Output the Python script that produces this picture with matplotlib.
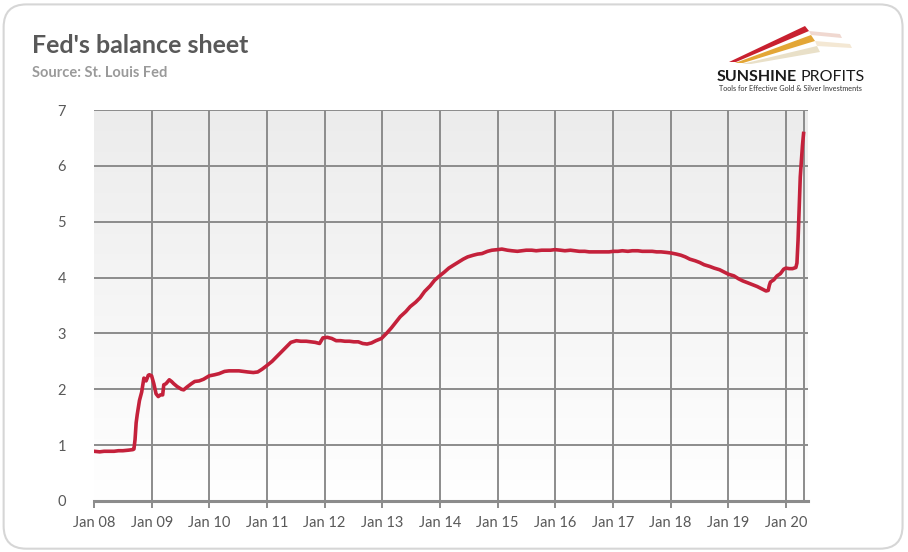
import matplotlib
matplotlib.use("Agg")
import matplotlib.pyplot as plt
import matplotlib.dates as mdates
from matplotlib.patches import FancyBboxPatch, Polygon
import numpy as np
import pandas as pd

# ---------------- data (trillions of USD) ----------------
dates = [
    "2008-01-02", "2008-02-06", "2008-03-05", "2008-04-02", "2008-05-07", "2008-06-04",
    "2008-07-02", "2008-08-06", "2008-09-03", "2008-09-10", "2008-09-17", "2008-09-24",
    "2008-10-01", "2008-10-15", "2008-10-29", "2008-11-12", "2008-11-26", "2008-12-10",
    "2008-12-17", "2008-12-31", "2009-01-14", "2009-01-28", "2009-02-11", "2009-02-25",
    "2009-03-11", "2009-03-18", "2009-04-01", "2009-04-22", "2009-05-06", "2009-05-20",
    "2009-06-10", "2009-07-08", "2009-07-22", "2009-08-12", "2009-09-09", "2009-09-30",
    "2009-10-28", "2009-11-25", "2009-12-30", "2010-02-03", "2010-03-03", "2010-04-07",
    "2010-05-05", "2010-06-02", "2010-07-07", "2010-08-04", "2010-09-01", "2010-10-06",
    "2010-11-03", "2010-12-01", "2010-12-29", "2011-02-02", "2011-03-02", "2011-04-06",
    "2011-05-04", "2011-06-01", "2011-07-06", "2011-08-03", "2011-09-07", "2011-10-05",
    "2011-11-02", "2011-11-30", "2011-12-21", "2012-01-18", "2012-02-15", "2012-03-14",
    "2012-04-11", "2012-05-09", "2012-06-06", "2012-07-04", "2012-08-01", "2012-08-29",
    "2012-09-26", "2012-10-24", "2012-11-21", "2012-12-26", "2013-01-30", "2013-02-27",
    "2013-03-27", "2013-04-24", "2013-05-29", "2013-06-26", "2013-07-31", "2013-08-28",
    "2013-09-25", "2013-10-30", "2013-11-27", "2013-12-25", "2014-01-29", "2014-02-26",
    "2014-03-26", "2014-04-30", "2014-05-28", "2014-06-25", "2014-07-30", "2014-08-27",
    "2014-09-24", "2014-10-29", "2014-11-26", "2014-12-31", "2015-01-28", "2015-03-04",
    "2015-04-01", "2015-05-06", "2015-06-03", "2015-07-01", "2015-08-05", "2015-09-02",
    "2015-10-07", "2015-11-04", "2015-12-02", "2015-12-30", "2016-02-03", "2016-03-02",
    "2016-04-06", "2016-05-04", "2016-06-01", "2016-07-06", "2016-08-03", "2016-09-07",
    "2016-10-05", "2016-11-02", "2016-12-07", "2017-01-04", "2017-02-01", "2017-03-01",
    "2017-04-05", "2017-05-03", "2017-06-07", "2017-07-05", "2017-08-02", "2017-09-06",
    "2017-10-04", "2017-11-01", "2017-12-06", "2018-01-03", "2018-02-07", "2018-03-07",
    "2018-04-04", "2018-05-02", "2018-06-06", "2018-07-04", "2018-08-01", "2018-09-05",
    "2018-10-03", "2018-11-07", "2018-12-05", "2019-01-02", "2019-02-06", "2019-03-06",
    "2019-04-03", "2019-05-01", "2019-06-05", "2019-07-03", "2019-08-07", "2019-08-28",
    "2019-09-11", "2019-09-18", "2019-09-25", "2019-10-16", "2019-11-06", "2019-11-27",
    "2019-12-18", "2020-01-01", "2020-01-22", "2020-02-12", "2020-03-04", "2020-03-11",
    "2020-03-18", "2020-03-25", "2020-04-01", "2020-04-08", "2020-04-15", "2020-04-22",
]
values = [
    0.89, 0.88, 0.89, 0.89, 0.89, 0.90,
    0.90, 0.91, 0.92, 0.93, 1.10, 1.40,
    1.55, 1.80, 1.95, 2.20, 2.15, 2.25,
    2.26, 2.24, 2.10, 1.92, 1.87, 1.90,
    1.90, 2.08, 2.10, 2.17, 2.14, 2.10,
    2.05, 2.00, 1.99, 2.04, 2.10, 2.14,
    2.15, 2.18, 2.24, 2.26, 2.28, 2.32,
    2.33, 2.33, 2.33, 2.32, 2.31, 2.30,
    2.31, 2.36, 2.42, 2.50, 2.58, 2.68,
    2.76, 2.84, 2.87, 2.86, 2.86, 2.85,
    2.84, 2.82, 2.92, 2.93, 2.91, 2.87,
    2.87, 2.86, 2.86, 2.85, 2.85, 2.82,
    2.81, 2.83, 2.87, 2.91, 3.01, 3.10,
    3.20, 3.30, 3.39, 3.48, 3.56, 3.64,
    3.75, 3.85, 3.95, 4.02, 4.10, 4.17,
    4.22, 4.28, 4.33, 4.37, 4.40, 4.42,
    4.43, 4.47, 4.49, 4.50, 4.51, 4.49,
    4.48, 4.47, 4.48, 4.49, 4.49, 4.48,
    4.49, 4.49, 4.49, 4.50, 4.49, 4.48,
    4.49, 4.48, 4.47, 4.47, 4.46, 4.46,
    4.46, 4.46, 4.46, 4.47, 4.47, 4.48,
    4.47, 4.48, 4.48, 4.47, 4.47, 4.47,
    4.46, 4.46, 4.45, 4.44, 4.42, 4.40,
    4.37, 4.33, 4.30, 4.27, 4.23, 4.20,
    4.17, 4.14, 4.10, 4.06, 4.03, 3.98,
    3.94, 3.91, 3.87, 3.84, 3.79, 3.76,
    3.77, 3.86, 3.92, 3.96, 4.03, 4.07,
    4.15, 4.17, 4.16, 4.16, 4.18, 4.26,
    4.67, 5.25, 5.80, 6.08, 6.37, 6.58,
]
y_ticks = [0, 1, 2, 3, 4, 5, 6, 7]
title = "Fed's balance sheet"
subtitle = "Source: St. Louis Fed"

x = pd.to_datetime(dates)

plt.rcParams['font.family'] = ['Lato', 'DejaVu Sans']

fig = plt.figure(figsize=(9.08, 5.52), dpi=100)
fig.patch.set_facecolor("white")

# outer rounded border
border = FancyBboxPatch((0.004, 0.006), 0.990, 0.986,
                        boxstyle="round,pad=0,rounding_size=0.025",
                        transform=fig.transFigure, facecolor="none",
                        edgecolor="#d6d6d6", linewidth=1.5, zorder=-1,
                        mutation_aspect=908/552)
fig.patches.append(border)

ax = fig.add_axes([94/908, 1 - 501/552, (808 - 94)/908, (501 - 110)/552])
ax.set_facecolor("none")

# gradient background inside plot area
grad = np.linspace(0, 1, 256).reshape(-1, 1)
ax.imshow(grad, extent=[0, 1, 0, 1], transform=ax.transAxes, aspect='auto',
          cmap=matplotlib.colors.LinearSegmentedColormap.from_list(
              "g", ["#ffffff", "#ececec"]), origin='lower', zorder=0)

ax.plot(x, values, color="#C4213B", linewidth=2.6, zorder=5, solid_joinstyle='round')

ax.set_ylim(0, 7)
ax.set_yticks(y_ticks)
xmin = pd.Timestamp("2008-01-01")
xmax = pd.Timestamp("2020-05-20")
ax.set_xlim(xmin, xmax)
year_ticks = pd.date_range("2008-01-01", "2020-01-01", freq="YS")
ax.set_xticks(year_ticks)
ax.xaxis.set_major_formatter(mdates.DateFormatter("%b %y"))

grid_c = "#8c8c8c"
ax.grid(True, axis='y', color=grid_c, linewidth=1.4, zorder=1)
ax.vlines(list(year_ticks[1:]) + [x[-1]], 0, 7, color=grid_c, linewidth=1.4, zorder=1)
ax.set_axisbelow(True)
for s in ["left", "right", "top"]:
    ax.spines[s].set_visible(False)
ax.spines["bottom"].set_color(grid_c)
ax.spines["bottom"].set_linewidth(2.2)
ax.spines["bottom"].set_zorder(2)

ax.tick_params(axis='x', colors=grid_c, length=5, width=1.4, labelcolor="#595959",
               labelsize=10.5, pad=6)
ax.tick_params(axis='y', length=0, labelcolor="#595959", labelsize=10.5, pad=20)

fig.text(32/908, 1 - 53/552, title, fontsize=18, fontweight='bold', color="#595959")
fig.text(32/908, 1 - 77/552, subtitle, fontsize=10.5, fontweight='bold', color="#9a9a9a")

# logo approximation
def fx(px):
    return px / 908
def fy(py):
    return 1 - py / 552

sw = [
    ([(729, 62), (805, 26), (809, 31), (736, 62)], "#c8202f"),
    ([(735, 63), (811, 35), (815, 41), (743, 63)], "#e3a636"),
    ([(742, 64), (817, 46), (820, 52), (751, 64)], "#e9e0c8"),
    ([(809, 31), (840, 34), (842, 38), (811, 35)], "#f0d8d0"),
    ([(815, 41), (850, 44), (852, 48), (817, 46)], "#f4e8d4"),
]
for pts, c in sw:
    poly = Polygon([(fx(a), fy(b)) for a, b in pts], closed=True,
                   transform=fig.transFigure, facecolor=c, edgecolor="none")
    fig.patches.append(poly)
fig.text(fx(717), fy(81), "SUNSHINE", fontsize=11.5, fontweight='bold', color="#1a1a1a")
fig.text(fx(800), fy(81), "PROFITS", fontsize=11.5, color="#1a1a1a")
fig.text(fx(719), fy(91), "Tools for Effective Gold & Silver Investments", fontsize=5.2,
         color="#333333")

fig.savefig("out.png", dpi=100, facecolor="white")
